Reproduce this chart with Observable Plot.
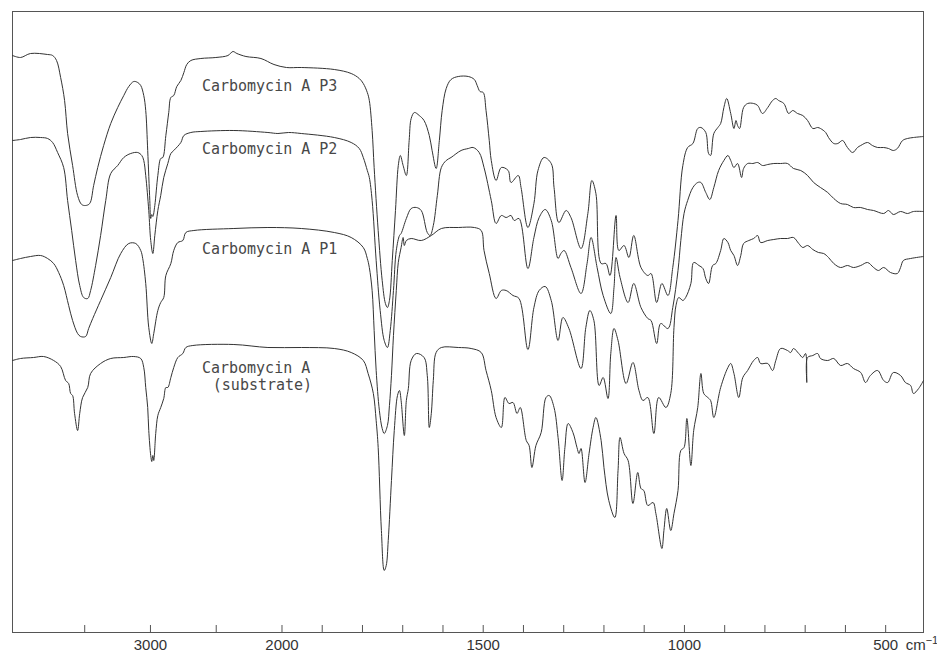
<!DOCTYPE html>
<html><head><meta charset="utf-8">
<script src="https://cdn.jsdelivr.net/npm/d3@7"></script>
<script src="https://cdn.jsdelivr.net/npm/@observablehq/plot@0.6"></script>
<style>body{margin:0;background:#fff}</style>
</head><body><div id="chart"></div>
<script>
// IR spectra: [wavenumber cm-1, relative transmittance (stacked, a.u.)]
const p3 = [[4049,57.7],[3988,57.5],[3912,57.9],[3782,57.8],[3744,57.7],[3714,57.2],[3683,55.5],[3653,53.2],[3630,49.9],[3592,46.7],[3554,43.7],[3523,42.8],[3493,42.7],[3462,42.9],[3432,44.7],[3401,46.5],[3356,48.7],[3302,50.9],[3249,52.5],[3203,53.7],[3165,54.6],[3127,55.1],[3097,55.0],[3074,54.7],[3051,53.7],[3036,52.2],[3021,48.2],[3005,43.2],[2998,41.4],[2990,41.8],[2982,41.6],[2967,42.7],[2944,45.7],[2922,47.4],[2906,47.5],[2883,49.7],[2861,52.0],[2845,53.5],[2823,53.7],[2800,54.6],[2769,55.2],[2746,56.0],[2724,56.8],[2693,57.2],[2617,57.4],[2503,57.5],[2411,57.7],[2373,58.1],[2343,57.9],[2274,57.6],[2160,57.4],[2061,56.8],[1989,56.5],[1952,56.5],[1870,56.3],[1828,55.9],[1808,55.4],[1798,54.9],[1788,54.0],[1783,53.2],[1776,50.2],[1771,46.5],[1761,40.2],[1751,35.2],[1743,32.9],[1738,32.5],[1733,33.2],[1726,37.2],[1718,42.2],[1711,46.7],[1706,47.7],[1699,46.7],[1691,45.7],[1684,49.2],[1679,51.4],[1671,52.0],[1659,51.7],[1647,51.2],[1634,49.7],[1627,48.2],[1617,46.4],[1609,49.2],[1602,52.2],[1592,54.4],[1580,55.3],[1562,55.6],[1537,55.6],[1522,55.3],[1515,54.7],[1508,54.1],[1500,54.0],[1493,52.2],[1485,49.2],[1480,47.2],[1468,45.2],[1455,46.5],[1438,46.2],[1431,45.0],[1413,45.7],[1406,44.5],[1389,40.5],[1374,42.9],[1364,46.2],[1349,47.5],[1331,46.9],[1324,44.5],[1312,41.0],[1294,42.2],[1282,41.5],[1257,38.4],[1240,41.9],[1230,45.2],[1220,43.9],[1207,36.9],[1195,36.9],[1185,35.7],[1170,41.7],[1163,38.2],[1150,38.7],[1138,37.5],[1126,39.7],[1108,36.5],[1091,35.7],[1083,35.9],[1069,33.0],[1056,34.9],[1041,33.7],[1029,36.5],[1016,41.2],[1004,46.7],[992,48.5],[979,48.9],[967,50.4],[959,50.5],[947,50.0],[940,47.9],[935,47.7],[927,49.9],[917,50.5],[910,50.9],[902,52.5],[895,53.4],[885,51.9],[877,50.4],[872,51.2],[868,50.7],[863,50.4],[853,52.5],[843,52.9],[828,52.9],[818,52.7],[806,51.9],[793,52.5],[781,53.2],[773,53.4],[766,53.2],[753,52.9],[741,51.9],[731,52.2],[719,51.9],[706,51.7],[694,51.2],[681,50.4],[669,50.5],[662,50.4],[649,50.0],[642,49.5],[629,48.9],[619,48.9],[607,49.2],[595,48.5],[582,48.0],[570,48.5],[562,48.7],[545,49.0],[533,48.7],[520,48.5],[505,48.5],[493,48.4],[481,48.2],[471,48.4],[458,49.2],[446,49.4],[431,49.5],[406,49.6]];

const p2 = [[4049,49.2],[3988,49.3],[3912,49.5],[3835,49.5],[3782,49.4],[3744,49.0],[3706,48.0],[3660,46.5],[3630,43.2],[3599,40.2],[3569,37.2],[3538,34.7],[3508,33.5],[3477,33.4],[3455,34.2],[3417,36.7],[3379,39.7],[3340,43.2],[3302,45.9],[3249,46.7],[3203,47.5],[3150,47.9],[3097,48.0],[3066,47.7],[3051,47.2],[3036,45.7],[3013,42.2],[2998,39.2],[2982,37.9],[2967,39.7],[2944,42.2],[2922,43.7],[2899,45.5],[2868,46.9],[2845,47.9],[2823,48.2],[2769,49.0],[2746,49.7],[2693,50.0],[2617,50.1],[2366,50.2],[2107,50.0],[2031,49.9],[1984,50.0],[1952,49.9],[1870,49.5],[1828,49.0],[1808,48.4],[1798,47.5],[1788,46.2],[1783,45.5],[1776,43.2],[1766,37.2],[1756,32.2],[1746,29.2],[1738,28.5],[1731,30.2],[1723,34.2],[1716,38.2],[1708,39.7],[1704,39.9],[1691,41.4],[1679,42.4],[1666,42.5],[1654,42.2],[1639,40.0],[1632,39.7],[1624,40.7],[1614,43.7],[1604,46.5],[1592,47.2],[1580,47.5],[1555,48.2],[1537,48.4],[1525,48.5],[1510,48.0],[1498,46.5],[1480,43.2],[1468,40.9],[1455,41.7],[1443,41.5],[1431,41.7],[1423,41.2],[1411,41.4],[1389,36.4],[1374,39.5],[1361,41.5],[1346,42.3],[1331,41.2],[1314,37.4],[1307,37.9],[1299,38.2],[1282,36.5],[1257,33.9],[1242,36.9],[1232,39.5],[1217,36.5],[1202,33.7],[1183,31.9],[1175,34.5],[1170,37.5],[1160,35.5],[1140,33.0],[1126,34.9],[1108,32.5],[1091,31.4],[1083,31.2],[1069,28.9],[1059,30.9],[1041,30.4],[1029,32.5],[1016,36.2],[1009,39.2],[1001,41.9],[992,43.2],[979,44.5],[967,45.0],[959,45.0],[947,44.0],[937,43.3],[927,44.5],[915,46.2],[902,47.2],[892,47.7],[885,47.2],[877,46.5],[868,46.9],[858,45.5],[853,46.4],[843,46.9],[830,46.9],[818,47.0],[806,46.7],[793,46.8],[778,46.9],[761,46.9],[744,46.9],[729,46.4],[711,46.2],[694,45.7],[679,45.0],[662,44.5],[644,44.0],[629,43.4],[612,42.9],[595,42.8],[580,42.5],[562,42.5],[545,42.3],[530,42.2],[505,41.9],[493,42.2],[481,41.8],[463,42.1],[446,41.9],[431,42.1],[406,42.1]];

const p1 = [[4049,37.2],[3988,37.4],[3912,37.6],[3835,37.7],[3782,37.4],[3736,36.9],[3698,36.0],[3660,34.7],[3622,32.7],[3592,31.2],[3554,29.9],[3531,29.6],[3493,29.6],[3470,30.4],[3439,31.4],[3379,33.2],[3302,35.5],[3226,37.9],[3165,38.9],[3112,38.9],[3074,38.2],[3059,37.4],[3036,34.9],[3013,30.5],[2990,28.9],[2975,29.9],[2944,32.2],[2922,33.0],[2899,33.5],[2883,35.7],[2845,36.9],[2823,38.2],[2792,39.0],[2754,39.2],[2731,40.0],[2670,40.2],[2366,40.4],[2107,40.5],[1952,40.4],[1870,40.0],[1828,39.5],[1798,38.5],[1788,37.4],[1783,36.5],[1776,34.2],[1771,30.2],[1766,26.2],[1758,22.2],[1751,20.4],[1746,19.9],[1738,20.7],[1733,22.7],[1728,25.7],[1723,29.7],[1716,34.2],[1711,37.0],[1704,38.5],[1699,39.5],[1696,38.7],[1691,39.2],[1679,39.4],[1654,39.2],[1629,39.7],[1604,40.4],[1562,40.5],[1522,40.5],[1505,40.2],[1498,38.2],[1485,35.9],[1468,33.4],[1455,34.2],[1443,34.2],[1426,33.7],[1411,33.4],[1389,28.3],[1374,32.5],[1361,34.2],[1346,34.6],[1331,33.2],[1314,29.2],[1302,31.5],[1287,30.4],[1257,26.4],[1245,30.5],[1235,32.2],[1225,31.2],[1212,24.7],[1202,25.5],[1190,23.4],[1183,27.9],[1175,30.4],[1165,29.2],[1145,24.9],[1128,27.0],[1113,24.2],[1103,23.2],[1091,23.5],[1076,19.9],[1064,23.5],[1046,22.5],[1034,23.9],[1026,30.5],[1021,32.7],[1014,33.5],[1004,33.2],[997,33.5],[984,34.9],[977,37.0],[964,36.7],[954,36.4],[947,35.4],[940,34.9],[930,36.7],[922,36.9],[910,38.2],[902,39.4],[892,39.0],[885,38.2],[877,37.7],[868,36.7],[860,37.7],[853,38.9],[840,39.2],[828,39.4],[818,39.7],[811,39.0],[793,39.2],[778,39.3],[761,39.4],[744,39.4],[729,39.5],[716,38.9],[706,38.5],[694,38.7],[681,38.3],[667,38.0],[654,37.9],[642,37.5],[629,36.9],[612,36.5],[595,36.7],[580,36.5],[562,36.7],[545,37.0],[530,36.5],[518,36.2],[505,36.5],[488,36.0],[471,35.9],[463,36.5],[456,37.2],[438,37.4],[406,37.6]];

const substrate = [[4049,27.2],[3988,27.4],[3889,27.5],[3813,27.6],[3736,27.2],[3683,26.6],[3645,25.2],[3622,24.9],[3607,23.9],[3592,23.7],[3577,21.9],[3554,20.2],[3538,21.9],[3516,23.5],[3477,24.5],[3455,25.9],[3379,26.9],[3302,27.4],[3203,27.5],[3127,27.6],[3074,27.4],[3051,26.5],[3036,24.5],[3021,22.5],[3013,20.2],[2998,17.7],[2990,17.1],[2982,17.7],[2975,17.2],[2960,19.9],[2944,21.7],[2922,22.5],[2899,23.4],[2883,24.5],[2868,24.5],[2845,25.5],[2823,26.5],[2792,27.5],[2754,27.9],[2731,28.5],[2678,28.7],[2366,28.8],[2107,28.5],[1952,28.5],[1870,28.4],[1828,28.0],[1798,27.2],[1786,25.9],[1773,23.9],[1766,21.2],[1761,18.5],[1753,10.2],[1746,6.2],[1741,6.7],[1736,9.2],[1728,15.2],[1721,20.2],[1713,23.7],[1708,24.2],[1704,23.2],[1696,19.7],[1691,23.2],[1686,24.4],[1679,27.2],[1666,27.9],[1647,27.5],[1639,25.7],[1634,20.5],[1629,21.9],[1624,25.2],[1617,28.0],[1604,28.5],[1562,28.5],[1530,28.4],[1505,28.0],[1493,26.2],[1480,24.2],[1468,21.5],[1455,20.5],[1446,23.5],[1436,22.9],[1426,23.0],[1416,21.9],[1408,22.5],[1393,19.2],[1386,18.7],[1379,16.5],[1369,18.7],[1356,20.0],[1344,23.5],[1336,23.7],[1324,22.5],[1314,19.5],[1304,15.2],[1297,18.5],[1289,20.9],[1277,20.0],[1267,18.5],[1262,17.9],[1257,18.4],[1247,15.0],[1237,17.9],[1227,20.5],[1220,21.5],[1207,19.2],[1200,16.5],[1188,13.2],[1173,11.5],[1165,16.2],[1160,19.5],[1150,17.9],[1140,17.2],[1128,12.9],[1116,16.0],[1108,14.4],[1101,14.2],[1091,12.7],[1078,13.0],[1071,11.9],[1056,8.4],[1051,10.2],[1044,12.4],[1034,10.2],[1026,11.9],[1016,14.2],[1009,18.2],[1001,18.5],[994,21.4],[984,16.7],[977,20.2],[967,22.5],[959,25.9],[952,23.9],[942,23.5],[935,23.2],[927,21.5],[910,24.5],[892,26.5],[885,26.9],[877,25.9],[865,23.5],[855,25.5],[843,26.2],[828,27.2],[818,27.5],[811,26.9],[793,26.9],[781,26.2],[773,27.2],[761,28.4],[744,28.2],[736,28.0],[729,28.4],[716,27.9],[706,27.5],[699,27.9],[696,25.0],[694,27.5],[681,27.7],[669,27.9],[662,27.4],[644,27.2],[629,27.4],[612,26.7],[595,26.9],[580,26.4],[562,26.0],[550,25.0],[538,25.7],[520,26.2],[505,25.2],[495,25.0],[481,26.0],[463,25.7],[451,25.0],[438,24.7],[431,23.9],[418,24.4],[406,25.2]];

const seriesNames = ["Carbomycin A P3", "Carbomycin A P2", "Carbomycin A P1", "Carbomycin A (substrate)"];
const seriesData = [p3, p2, p1, substrate];

const labelTexts = ["Carbomycin A P3", "Carbomycin A P2", "Carbomycin A P1", "Carbomycin A", "(substrate)"];
const labelW = [2609, 2609, 2609, 2609, 2526];
const labelV = [54.6, 48.3, 38.3, 26.4, 24.7];

const tickLabels = [3000, 2000, 1500, 1000, 500];
const tickMarks = [3500, 3000, 2500, 2000, 1900, 1800, 1700, 1600, 1500, 1400, 1300, 1200, 1100, 1000, 900, 800, 700, 600, 500];
const unitText = "cm";
const unitExponent = "\u22121";

// IR chart paper: the 4000-2000 cm-1 part is compressed 3.06x relative to 2000-400 cm-1
const compress = 3.06;
const warp = w => (w > 2000 ? 2000 + (w - 2000) / compress : w);

const rows = seriesData.flatMap((pts, i) => pts.map(([w, v]) => ({series: seriesNames[i], w, v})));
const labels = labelTexts.map((t, i) => ({text: t, w: labelW[i], v: labelV[i]}));

const chart = Plot.plot({
  width: 937,
  height: 652,
  marginLeft: 12,
  marginRight: 14,
  marginTop: 11,
  marginBottom: 20,
  x: {type: "linear", transform: warp, domain: [warp(4049), warp(406)]},
  y: {domain: [0, 62.1], axis: null},
  style: {background: "#fff"},
  marks: [
    Plot.frame({stroke: "#555", strokeWidth: 1}),
    Plot.ruleX(tickMarks, {x: d => d, y1: 0, y2: 0.7, stroke: "#555"}),
    Plot.axisX(tickLabels, {tickSize: 0, tickPadding: 7, fontSize: 15, fontFamily: "Liberation Sans", tickFormat: d => String(d), color: "#333", label: null}),
    Plot.text([500], {x: d => d, y: 0, text: () => unitText, dx: 20, dy: 7, lineAnchor: "top", textAnchor: "start", fontSize: 15, fontFamily: "Liberation Sans", fill: "#333"}),
    Plot.text([500], {x: d => d, y: 0, text: () => unitExponent, dx: 40, dy: 4, lineAnchor: "top", textAnchor: "start", fontSize: 11, fontFamily: "Liberation Sans", fill: "#333"}),
    Plot.line(rows, {x: "w", y: "v", z: "series", stroke: "#333", strokeWidth: 1, curve: "catmull-rom"}),
    Plot.text(labels, {x: "w", y: "v", text: "text", textAnchor: "start", fontFamily: "DejaVu Sans Mono", fontSize: 15, fill: "#484848"})
  ]
});
document.getElementById("chart").append(chart);
</script>
</body></html>
